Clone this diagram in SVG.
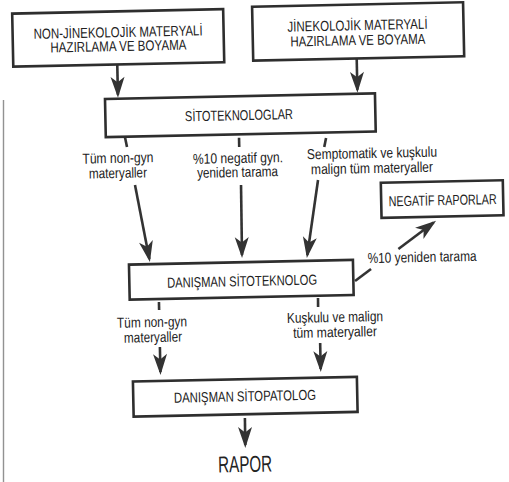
<svg xmlns="http://www.w3.org/2000/svg" width="509" height="482" viewBox="0 0 509 482">
<style>
.box{fill:#fff;stroke:#2e2e2e;stroke-width:2.6}
.t{font-family:"Liberation Sans Narrow","Liberation Sans",Arial,sans-serif;fill:#222;text-anchor:middle}
.u{font-size:14.5px}
.s{font-size:14.5px}
.ln{stroke:#333;stroke-width:2.6;fill:none}
.tk{stroke:#333;stroke-width:2.6;fill:none}
</style>
<defs>
<marker id="ah" markerUnits="userSpaceOnUse" viewBox="-20 -8 24 16" refX="0" refY="0" markerWidth="24" markerHeight="16" orient="auto" overflow="visible">
<path d="M3,0 L-18,-7 L-12.5,0 L-18,7 Z" fill="#333"/>
</marker>
</defs>
<rect width="509" height="482" fill="#fff"/>
<line x1="3.5" y1="100" x2="3.5" y2="482" stroke="#777" stroke-width="1.4" opacity="0.8"/>
<g transform="rotate(-1.2 254 241)">
<g id="connectors">
<line class="ln" x1="121" y1="62" x2="121" y2="92" marker-end="url(#ah)"/>
<line class="ln" x1="360.5" y1="61" x2="360.5" y2="92" marker-end="url(#ah)"/>
<line class="tk" x1="127.2" y1="134.5" x2="129" y2="144.3"/>
<line class="tk" x1="241.2" y1="137.5" x2="241.2" y2="146.7"/>
<line class="tk" x1="328.2" y1="139.5" x2="326.2" y2="148.5"/>
<line class="ln" x1="136.2" y1="182.5" x2="149" y2="256.8" marker-end="url(#ah)"/>
<line class="ln" x1="242.2" y1="184.7" x2="241.7" y2="254.8" marker-end="url(#ah)"/>
<line class="ln" x1="319.3" y1="181.3" x2="307" y2="256.1" marker-end="url(#ah)"/>
<line class="ln" x1="354.2" y1="283.1" x2="370.4" y2="271.5"/>
<line class="ln" x1="398.2" y1="252" x2="434" y2="226.3" marker-end="url(#ah)"/>
<line class="tk" x1="157.7" y1="300" x2="157.7" y2="308"/>
<line class="tk" x1="316.8" y1="299.3" x2="316.7" y2="308.3"/>
<line class="ln" x1="157.7" y1="345" x2="157.7" y2="370" marker-end="url(#ah)"/>
<line class="ln" x1="318" y1="344.4" x2="318" y2="370.4" marker-end="url(#ah)"/>
<line class="ln" x1="241.2" y1="417.8" x2="241" y2="444.8" marker-end="url(#ah)"/>
<text class="t s" x="119.7" y="160.1" textLength="71" lengthAdjust="spacingAndGlyphs">Tüm non-gyn</text>
<text class="t s" x="119.4" y="175.1" textLength="58" lengthAdjust="spacingAndGlyphs">materyaller</text>
<text class="t s" x="239.7" y="162.7" textLength="90" lengthAdjust="spacingAndGlyphs">%10 negatif gyn.</text>
<text class="t s" x="239" y="176.7" textLength="81" lengthAdjust="spacingAndGlyphs">yeniden tarama</text>
<text class="t s" x="373.8" y="160.5" textLength="130" lengthAdjust="spacingAndGlyphs">Semptomatik ve kuşkulu</text>
<text class="t s" x="373.5" y="175.5" textLength="122" lengthAdjust="spacingAndGlyphs">malign tüm materyaller</text>
<text class="t s" x="421.7" y="265.5" textLength="109" lengthAdjust="spacingAndGlyphs">%10 yeniden tarama</text>
<text class="t s" x="150.3" y="324.9" textLength="70" lengthAdjust="spacingAndGlyphs">Tüm non-gyn</text>
<text class="t s" x="151" y="340" textLength="58" lengthAdjust="spacingAndGlyphs">materyaller</text>
<text class="t s" x="333.4" y="323.7" textLength="96" lengthAdjust="spacingAndGlyphs">Kuşkulu ve malign</text>
<text class="t s" x="333.1" y="338.7" textLength="84" lengthAdjust="spacingAndGlyphs">tüm materyaller</text>
</g>
<g id="n1">
<rect class="box" x="17" y="8.6" width="211" height="53"/>
<text class="t u" x="122.5" y="34.3" textLength="169" lengthAdjust="spacingAndGlyphs">NON-JİNEKOLOJİK MATERYALİ</text>
<text class="t u" x="122.5" y="48.3" textLength="136" lengthAdjust="spacingAndGlyphs">HAZIRLAMA VE BOYAMA</text>
</g>
<g id="n2">
<rect class="box" x="257" y="6.7" width="211" height="54"/>
<text class="t u" x="362" y="32.4" textLength="140" lengthAdjust="spacingAndGlyphs">JİNEKOLOJİK MATERYALİ</text>
<text class="t u" x="362" y="47.4" textLength="135" lengthAdjust="spacingAndGlyphs">HAZIRLAMA VE BOYAMA</text>
</g>
<g id="n3">
<rect class="box" x="108" y="96" width="270" height="38"/>
<text class="t u" x="241.6" y="119.9" textLength="108" lengthAdjust="spacingAndGlyphs">SİTOTEKNOLOGLAR</text>
</g>
<g id="n4">
<rect class="box" x="128.5" y="262" width="224" height="35"/>
<text class="t u" x="241.2" y="285.9" textLength="150" lengthAdjust="spacingAndGlyphs">DANIŞMAN SİTOTEKNOLOG</text>
</g>
<g id="n5">
<rect class="box" x="382" y="185.5" width="122" height="35"/>
<text class="t u" x="443.5" y="209.2" textLength="108" lengthAdjust="spacingAndGlyphs">NEGATİF RAPORLAR</text>
</g>
<g id="n6">
<rect class="box" x="130" y="379" width="224" height="35"/>
<text class="t u" x="241.7" y="401" textLength="142" lengthAdjust="spacingAndGlyphs">DANIŞMAN SİTOPATOLOG</text>
</g>
<g id="n7">
<text class="t" x="240.5" y="471.8" font-size="23" textLength="54" lengthAdjust="spacingAndGlyphs">RAPOR</text>
</g>
</g>
</svg>
